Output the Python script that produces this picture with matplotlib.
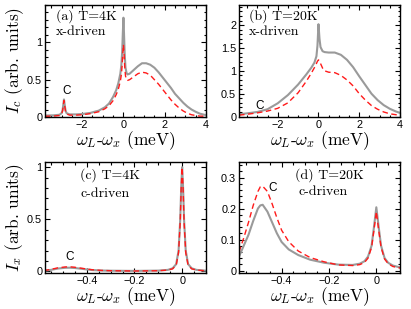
import matplotlib

matplotlib.use("Agg")
import matplotlib.pyplot as plt
from matplotlib.ticker import AutoMinorLocator, FuncFormatter, FixedLocator

plt.rcParams["mathtext.fontset"] = "cm"
plt.rcParams["axes.unicode_minus"] = True

# (a) T=4K, x-driven
a_x = [-3.8, -3.4, -3.1, -3.0, -2.95, -2.92, -2.88, -2.84, -2.8, -2.75, -2.6, -2.3,
       -2.0, -1.6, -1.2, -0.9, -0.7, -0.5, -0.35, -0.25, -0.15, -0.1, -0.06, -0.03,
       0.0, 0.03, 0.06, 0.1, 0.15, 0.2, 0.3, 0.5, 0.7, 0.9, 1.1, 1.3, 1.5, 1.7, 1.9,
       2.1, 2.3, 2.5, 2.7, 2.9, 3.1, 3.3, 3.5, 3.7, 4.0]
a_gray = [0.02, 0.022, 0.03, 0.05, 0.09, 0.15, 0.235, 0.15, 0.08, 0.05, 0.035, 0.035,
          0.04, 0.055, 0.085, 0.13, 0.18, 0.27, 0.36, 0.45, 0.58, 0.7, 0.88, 1.12,
          1.33, 1.1, 0.85, 0.66, 0.59, 0.57, 0.58, 0.63, 0.68, 0.72, 0.72, 0.70, 0.66,
          0.60, 0.53, 0.46, 0.39, 0.31, 0.25, 0.19, 0.14, 0.10, 0.07, 0.045, 0.025]
a_red = [0.01, 0.012, 0.02, 0.04, 0.08, 0.14, 0.22, 0.14, 0.07, 0.04, 0.025, 0.025,
         0.03, 0.045, 0.07, 0.11, 0.15, 0.22, 0.30, 0.37, 0.48, 0.57, 0.70, 0.86,
         0.97, 0.85, 0.68, 0.55, 0.50, 0.49, 0.50, 0.54, 0.58, 0.60, 0.59, 0.56, 0.50,
         0.44, 0.37, 0.30, 0.23, 0.17, 0.12, 0.08, 0.05, 0.03, 0.02, 0.012, 0.01]

# (b) T=20K, x-driven
b_x = [-3.9, -3.5, -3.0, -2.5, -2.0, -1.5, -1.0, -0.6, -0.35, -0.2, -0.1, -0.05, 0.0,
       0.05, 0.1, 0.2, 0.3, 0.5, 0.8, 1.1, 1.4, 1.7, 2.0, 2.3, 2.6, 2.9, 3.2, 3.5,
       3.8, 4.0]
b_gray = [0.05, 0.07, 0.10, 0.16, 0.29, 0.47, 0.70, 0.92, 1.07, 1.18, 1.32, 1.55, 2.02,
          1.70, 1.52, 1.43, 1.41, 1.40, 1.40, 1.35, 1.24, 1.08, 0.88, 0.69, 0.50, 0.36,
          0.25, 0.17, 0.11, 0.08]
b_red = [0.03, 0.05, 0.08, 0.12, 0.18, 0.30, 0.52, 0.77, 0.95, 1.07, 1.16, 1.21, 1.24,
         1.21, 1.16, 1.06, 1.00, 0.97, 0.96, 0.90, 0.80, 0.67, 0.50, 0.36, 0.24, 0.16,
         0.10, 0.06, 0.04, 0.03]

# (c) T=4K, c-driven
c_x = [-0.58, -0.55, -0.52, -0.49, -0.47, -0.45, -0.42, -0.38, -0.34, -0.3, -0.2, -0.1,
       -0.06, -0.04, -0.025, -0.015, -0.008, -0.004, 0.0, 0.004, 0.008, 0.015, 0.025,
       0.04, 0.06, 0.1]
c_gray = [0.006, 0.015, 0.028, 0.035, 0.036, 0.033, 0.025, 0.014, 0.009, 0.007, 0.005,
          0.008, 0.015, 0.03, 0.07, 0.2, 0.5, 0.8, 1.0, 0.8, 0.5, 0.2, 0.07, 0.03,
          0.015, 0.007]
c_red = [0.008, 0.02, 0.035, 0.043, 0.044, 0.04, 0.03, 0.017, 0.01, 0.007, 0.004,
         0.007, 0.013, 0.025, 0.06, 0.18, 0.48, 0.8, 1.0, 0.8, 0.48, 0.18, 0.06, 0.025,
         0.013, 0.006]

# (d) T=20K, c-driven
d_x = [-0.58, -0.56, -0.54, -0.52, -0.5, -0.49, -0.48, -0.46, -0.44, -0.42, -0.4,
       -0.37, -0.33, -0.28, -0.22, -0.16, -0.1, -0.07, -0.05, -0.035, -0.02, -0.01,
       0.0, 0.01, 0.02, 0.035, 0.05, 0.07, 0.1]
d_gray = [0.045, 0.08, 0.115, 0.16, 0.2, 0.21, 0.212, 0.19, 0.155, 0.12, 0.092, 0.068,
          0.05, 0.035, 0.025, 0.019, 0.018, 0.022, 0.03, 0.045, 0.08, 0.14, 0.204,
          0.14, 0.08, 0.04, 0.025, 0.016, 0.01]
d_red = [0.06, 0.105, 0.155, 0.21, 0.255, 0.27, 0.272, 0.255, 0.215, 0.17, 0.13, 0.093,
         0.063, 0.042, 0.028, 0.018, 0.016, 0.019, 0.026, 0.04, 0.075, 0.13, 0.19, 0.13,
         0.075, 0.037, 0.022, 0.013, 0.008]

GRAY = "#9a9a9a"
RED = "#ff1a1a"
SERIF = "cmr10"
TICKFONT = "Liberation Sans"


def fmt(v, pos):
    s = "%g" % v
    return s.replace("-", "\u2212")


def style(ax, xlim, ylim, xticks, yticks):
    ax.set_xlim(*xlim)
    ax.set_ylim(*ylim)
    ax.xaxis.set_major_locator(FixedLocator(xticks))
    ax.yaxis.set_major_locator(FixedLocator(yticks))
    ax.xaxis.set_minor_locator(AutoMinorLocator(4))
    ax.yaxis.set_minor_locator(AutoMinorLocator(5))
    ax.xaxis.set_major_formatter(FuncFormatter(fmt))
    ax.yaxis.set_major_formatter(FuncFormatter(fmt))
    ax.tick_params(which="both", direction="in", top=True, right=True,
                   labelsize=7.8, pad=2, width=0.8)
    ax.tick_params(which="major", length=3.5)
    ax.tick_params(which="minor", length=1.8)
    for lab in ax.get_xticklabels() + ax.get_yticklabels():
        lab.set_fontfamily(TICKFONT)
    for sp in ax.spines.values():
        sp.set_linewidth(1.0)
    ax.set_xlabel(r"$\omega_L$-$\omega_x$ (meV)", fontfamily=SERIF, fontsize=12.5,
                  labelpad=0)


fig = plt.figure(figsize=(4.11, 3.09), dpi=100)
W, H = 411.0, 309.0
ax_a = fig.add_axes([45 / W, 1 - 117 / H, 161 / W, 112 / H])
ax_b = fig.add_axes([239 / W, 1 - 117 / H, 161 / W, 112 / H])
ax_c = fig.add_axes([45 / W, 1 - 273 / H, 161 / W, 111 / H])
ax_d = fig.add_axes([239 / W, 1 - 273 / H, 161 / W, 111 / H])

panels = [
    (ax_a, a_x, a_gray, a_red, (-3.8, 4.0), (0, 1.5), [-2, 0, 2, 4], [0, 0.5, 1]),
    (ax_b, b_x, b_gray, b_red, (-3.9, 4.0), (-0.01, 2.44), [-2, 0, 2, 4],
     [0, 0.5, 1, 1.5, 2]),
    (ax_c, c_x, c_gray, c_red, (-0.575, 0.1), (-0.015, 1.05), [-0.4, -0.2, 0],
     [0, 0.5, 1]),
    (ax_d, d_x, d_gray, d_red, (-0.58, 0.1), (-0.008, 0.35), [-0.4, -0.2, 0],
     [0, 0.1, 0.2, 0.3]),
]
for ax, x, g, r, xl, yl, xt, yt in panels:
    ax.plot(x, g, "-", color=GRAY, lw=1.5)
    ax.plot(x, r, "--", color=RED, lw=1.0, dashes=(4, 2.5))
    style(ax, xl, yl, xt, yt)

ax_a.set_ylabel(r"$I_c$ (arb. units)", fontfamily=SERIF, fontsize=12.5, labelpad=1)
ax_c.set_ylabel(r"$I_x$ (arb. units)", fontfamily=SERIF, fontsize=12.5, labelpad=1)

txt = dict(fontfamily=SERIF, fontsize=10, va="center", ha="left")
ax_a.text(0.07, 0.9, "(a) T=4K", transform=ax_a.transAxes, **txt)
ax_a.text(0.07, 0.76, "x-driven", transform=ax_a.transAxes, **txt)
ax_b.text(0.06, 0.9, "(b) T=20K", transform=ax_b.transAxes, **txt)
ax_b.text(0.06, 0.76, "x-driven", transform=ax_b.transAxes, **txt)
ax_c.text(0.22, 0.88, "(c) T=4K", transform=ax_c.transAxes, **txt)
ax_c.text(0.22, 0.71, "c-driven", transform=ax_c.transAxes, **txt)
ax_d.text(0.35, 0.88, "(d) T=20K", transform=ax_d.transAxes, **txt)
ax_d.text(0.37, 0.73, "c-driven", transform=ax_d.transAxes, **txt)

ctxt = dict(fontfamily=TICKFONT, fontsize=8.5, ha="center", va="center")
ax_a.text(-2.75, 0.35, "C", **ctxt)
ax_b.text(-2.9, 0.22, "C", **ctxt)
ax_c.text(-0.47, 0.14, "C", **ctxt)
ax_d.text(-0.44, 0.265, "C", **ctxt)

fig.savefig("out.png", dpi=100)
